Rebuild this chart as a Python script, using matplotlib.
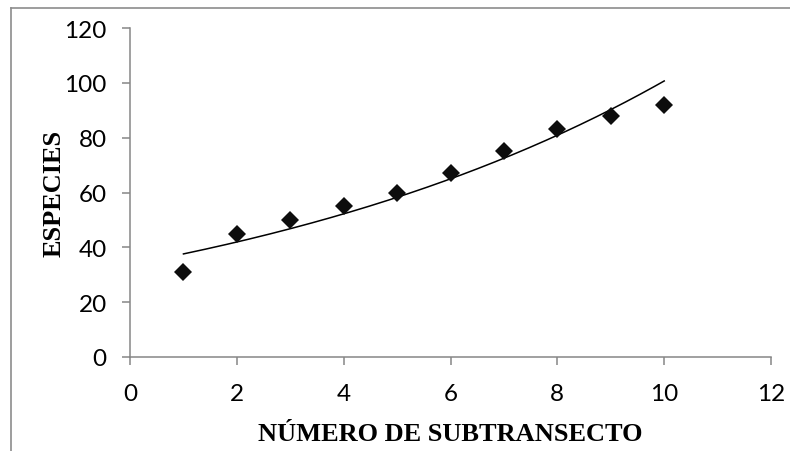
import matplotlib
matplotlib.use("Agg")
import matplotlib.pyplot as plt
from matplotlib.lines import Line2D
import numpy as np

# Species accumulation per subtransect
subtransecto = [1, 2, 3, 4, 5, 6, 7, 8, 9, 10]
especies = [31, 45, 50, 55, 60, 67, 75, 83, 88, 92]

x_ticks = [0, 2, 4, 6, 8, 10, 12]
y_ticks = [0, 20, 40, 60, 80, 100, 120]

AXIS_GRAY = "#868686"

fig = plt.figure(figsize=(7.9, 4.52), dpi=100)
ax = fig.add_axes([0.1646, 0.208, 0.8114, 0.7278])

# exponential trendline (least squares on log y), like Excel's
x = np.array(subtransecto, dtype=float)
y = np.array(especies, dtype=float)
b, ln_a = np.polyfit(x, np.log(y), 1)
xs = np.linspace(x.min(), x.max(), 200)
ax.plot(xs, np.exp(ln_a) * np.exp(b * xs), color="black", lw=1.1, zorder=2)

ax.plot(x, y, linestyle="none", marker="D", ms=9, color="#0d0d0d",
        markeredgewidth=0, zorder=3)

ax.set_xlim(0, 12)
ax.set_ylim(0, 120)
ax.set_xticks(x_ticks)
ax.set_yticks(y_ticks)

for side in ("top", "right"):
    ax.spines[side].set_visible(False)
for side in ("left", "bottom"):
    ax.spines[side].set_color(AXIS_GRAY)
    ax.spines[side].set_linewidth(1.1)

ax.tick_params(axis="both", direction="out", length=5.8, width=1.1,
               color=AXIS_GRAY, labelsize=17.5, labelcolor="black")
ax.tick_params(axis="x", pad=13)
ax.tick_params(axis="y", pad=11)
for lab in ax.get_xticklabels() + ax.get_yticklabels():
    lab.set_fontfamily("Lato")

label_font = dict(family="Liberation Serif", weight="bold", size=19)
ax.set_xlabel("NÚMERO DE SUBTRANSECTO", labelpad=13, **label_font)
ax.set_ylabel("ESPECIES", labelpad=-1, **label_font)

# chart area border (only top and left visible in the crop)
fig.add_artist(Line2D([11 / 790, 1.0], [1 - 8.5 / 452, 1 - 8.5 / 452],
                      transform=fig.transFigure, color="#8c8c8c", lw=1.2))
fig.add_artist(Line2D([11 / 790, 11 / 790], [0.0, 1 - 8.5 / 452],
                      transform=fig.transFigure, color="#8c8c8c", lw=1.2))

fig.savefig("out.png", dpi=100)
